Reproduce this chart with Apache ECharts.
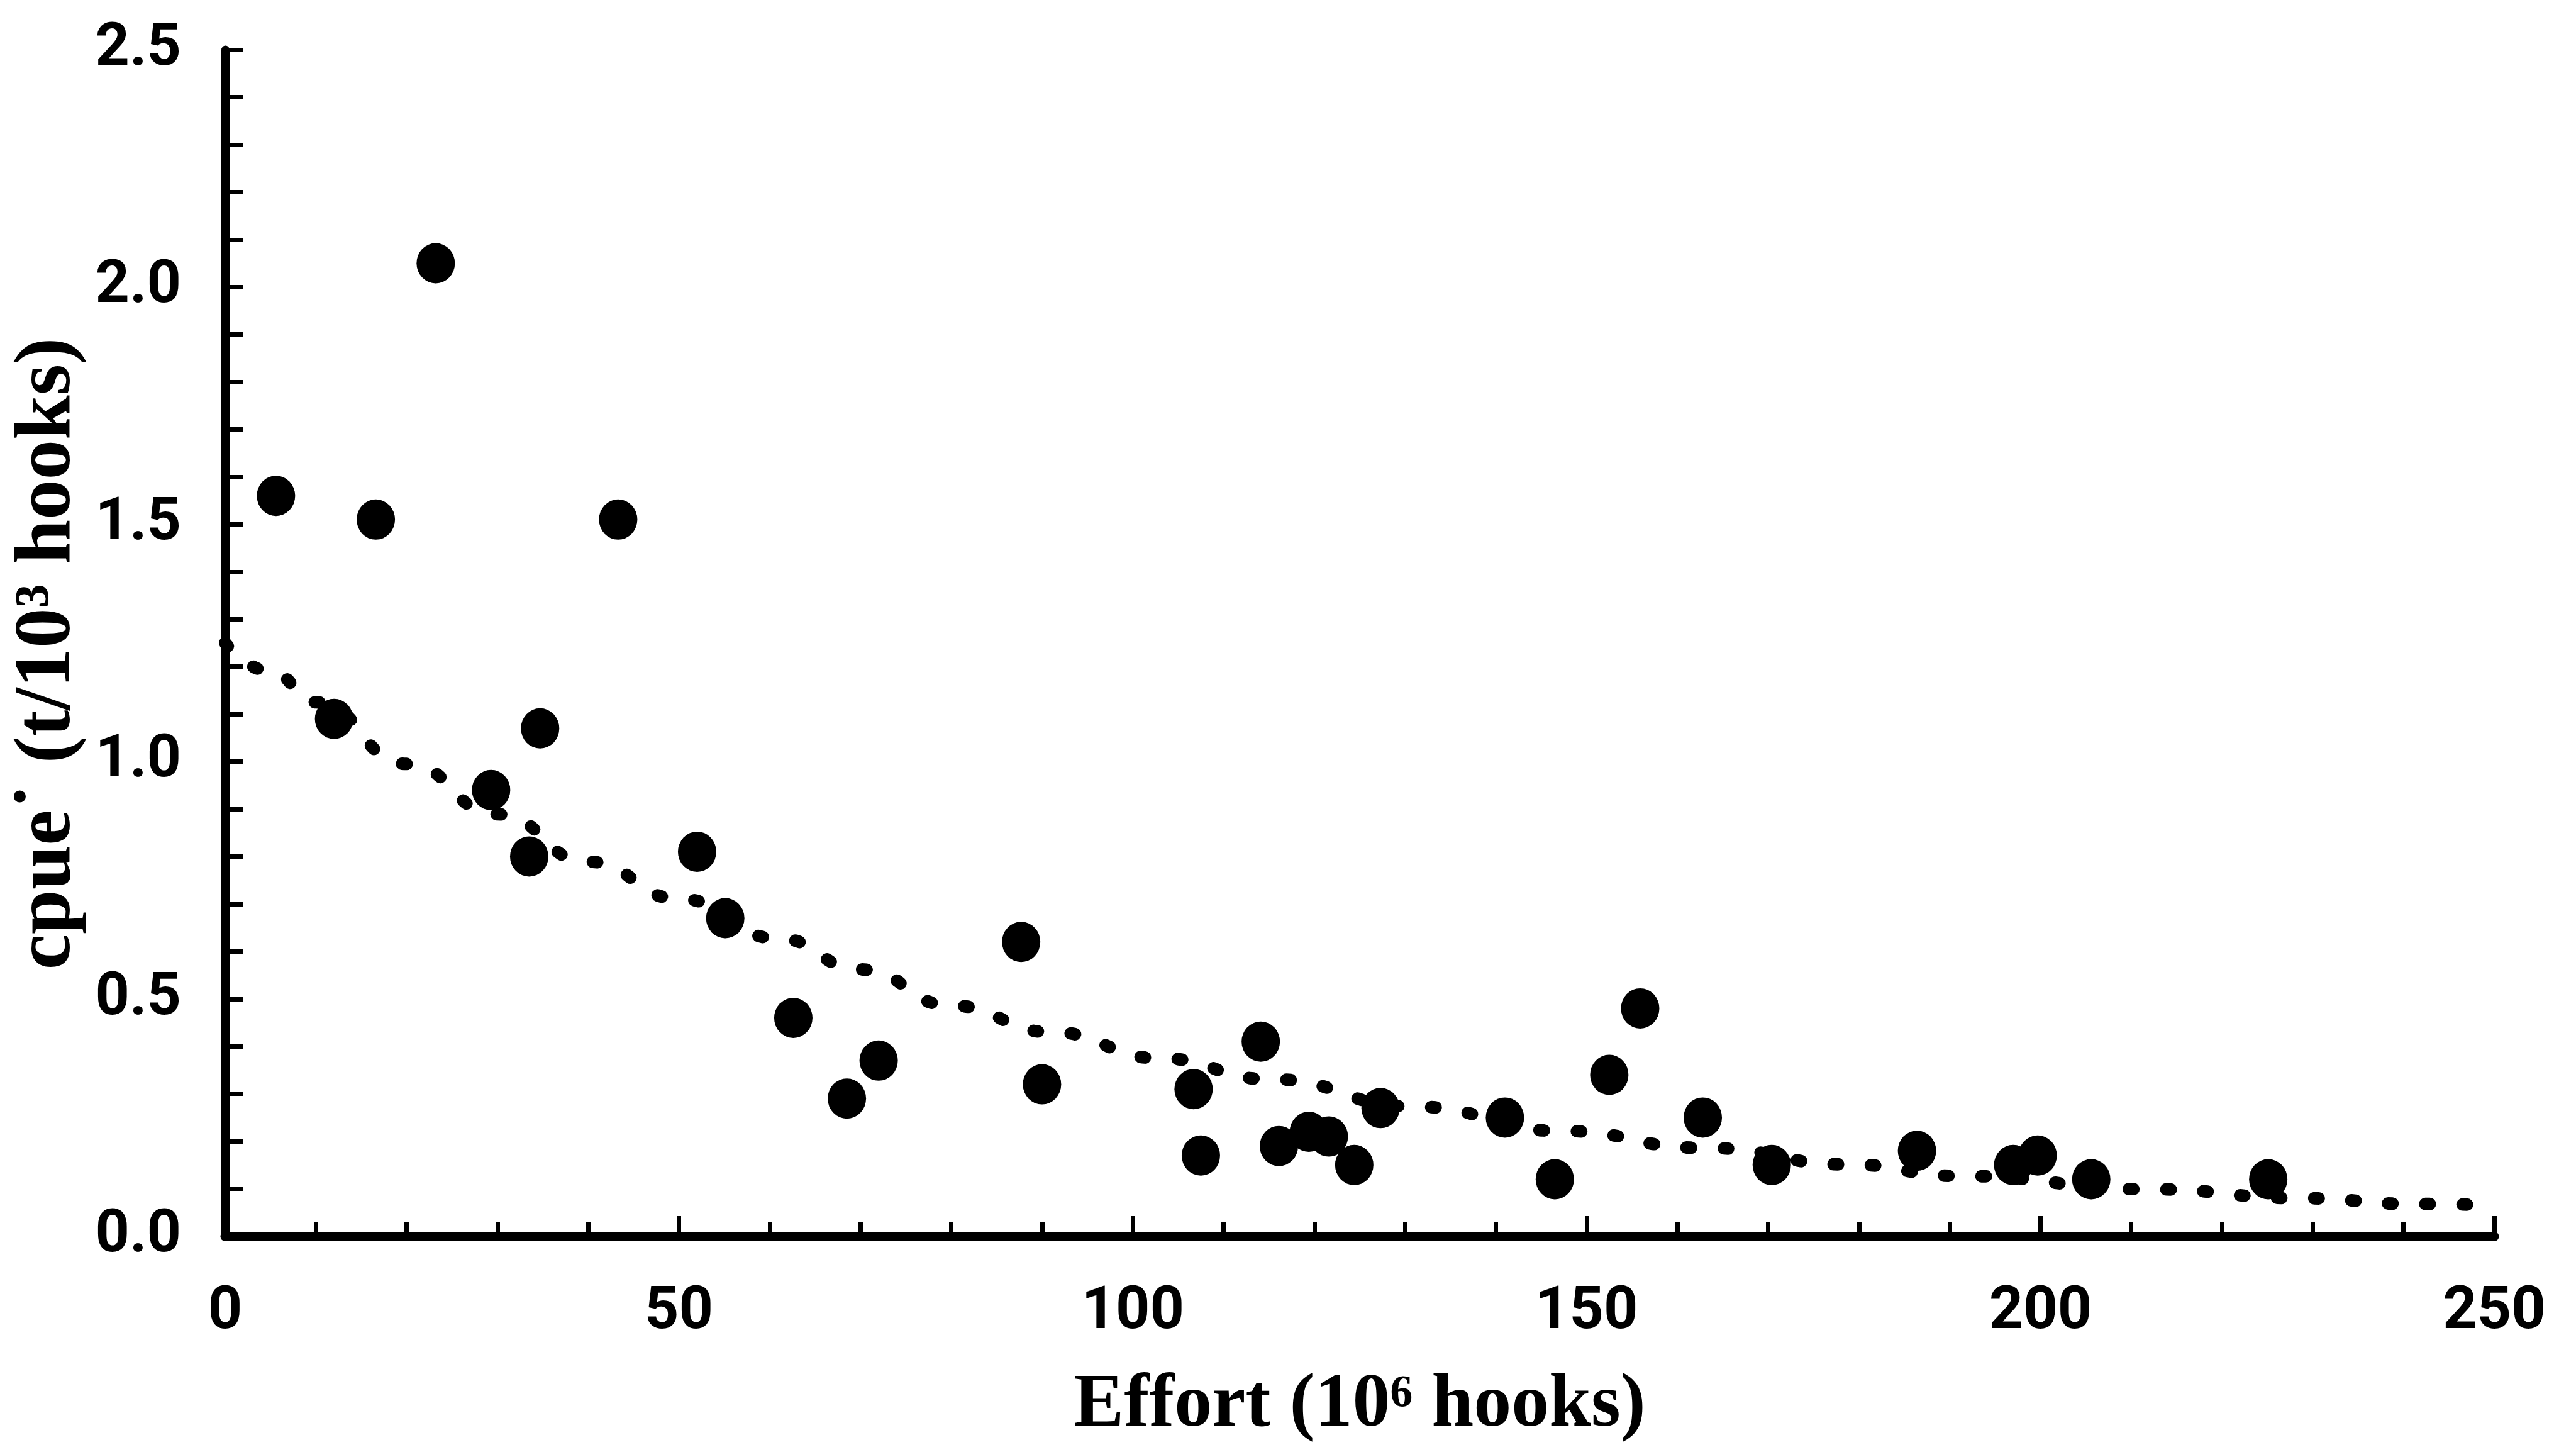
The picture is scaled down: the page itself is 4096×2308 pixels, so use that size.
<!DOCTYPE html>
<html>
<head>
<meta charset="utf-8">
<script src="https://cdn.jsdelivr.net/npm/echarts/dist/echarts.min.js"></script>
<style>
  html, body { margin: 0; padding: 0; background: #fff; }
  #chart { width: 4096px; height: 2308px; }
</style>
</head>
<body>
<div id="chart"></div>
<script>
// observed points: fishing effort (10^6 hooks) and standardised cpue
const effort = [5.6, 12.0, 16.6, 23.2, 29.3, 33.5, 34.7, 43.3, 52.0, 55.1, 62.6, 68.5, 72.0, 87.7,
    90.0, 106.7, 107.5, 114.1, 116.1, 119.4, 121.6, 124.4, 127.3, 141.0, 146.5, 152.5, 155.9,
    162.8, 170.4, 186.4, 197.0, 199.7, 205.6, 225.1];
const cpue = [1.56, 1.09, 1.51, 2.05, 0.94, 0.80, 1.07, 1.51, 0.81, 0.67, 0.46, 0.29, 0.37, 0.62,
    0.32, 0.31, 0.17, 0.41, 0.19, 0.22, 0.21, 0.15, 0.27, 0.25, 0.12, 0.34, 0.48,
    0.25, 0.15, 0.18, 0.15, 0.17, 0.12, 0.12];

// fitted curve
const fitEffort = [0, 5, 10, 20, 30, 40, 50, 61, 70, 80, 91, 103, 115, 131, 147, 163, 179, 191, 212, 229, 241, 250];
const fitCpue = [1.25, 1.19, 1.125, 0.995, 0.889, 0.789, 0.711, 0.627, 0.562, 0.486, 0.43, 0.375, 0.331, 0.273,
    0.222, 0.186, 0.151, 0.127, 0.099, 0.080, 0.068, 0.065];

const xLabels = [0, 50, 100, 150, 200, 250];
const yLabels = ['0.0', '0.5', '1.0', '1.5', '2.0', '2.5'];

const tickFont = "'Liberation Sans Narrow', Roboto, sans-serif";
const titleFont = "'Liberation Serif', 'DejaVu Serif', serif";

const chart = echarts.init(document.getElementById('chart'));

const option = {
    backgroundColor: '#fff',
    animation: false,
    grid: {left: 358, right: 130, top: 79, bottom: 343},
    xAxis: {
        type: 'value',
        min: xLabels[0],
        max: xLabels[xLabels.length - 1],
        interval: 50,
        name: 'Effort (10⁶ hooks)',
        nameLocation: 'middle',
        nameGap: 210,
        nameTextStyle: {fontFamily: titleFont, fontWeight: 'bold', fontSize: 120, color: '#000'},
        axisLine: {lineStyle: {color: '#000', width: 15}},
        axisTick: {inside: true, length: 32, lineStyle: {color: '#000', width: 7}},
        minorTick: {show: true, splitNumber: 5, length: 23, lineStyle: {color: '#000', width: 7}},
        splitLine: {show: false},
        axisLabel: {
            margin: 75, fontFamily: tickFont, fontWeight: 'bold', fontSize: 95, color: '#000',
            formatter: v => String(v)
        }
    },
    yAxis: {
        type: 'value',
        min: 0,
        max: 2.5,
        interval: 0.5,
        name: 'cpue˙ (t/10³ hooks)',
        nameLocation: 'middle',
        nameGap: 200,
        nameTextStyle: {
            fontFamily: titleFont, fontWeight: 'bold', fontSize: 127, color: '#000',
            padding: [0, 34, 0, 0]
        },
        axisLine: {show: true, lineStyle: {color: '#000', width: 13}},
        axisTick: {show: true, inside: true, length: 28, lineStyle: {color: '#000', width: 7}},
        minorTick: {show: true, splitNumber: 5, length: 28, lineStyle: {color: '#000', width: 7}},
        splitLine: {show: false},
        axisLabel: {
            margin: 70, fontFamily: tickFont, fontWeight: 'bold', fontSize: 95, color: '#000',
            formatter: v => yLabels[Math.round(v * 2)]
        }
    },
    series: [
        {
            type: 'line',
            data: fitEffort.map((x, i) => [x, fitCpue[i]]),
            smooth: true,
            smoothMonotone: 'x',
            showSymbol: false,
            lineStyle: {color: '#000', width: 20, type: [7, 52], cap: 'round'},
            z: 2
        },
        {
            type: 'scatter',
            data: effort.map((x, i) => [x, cpue[i]]),
            symbol: 'circle',
            symbolSize: [61, 64],
            itemStyle: {color: '#000', opacity: 1},
            z: 3
        }
    ]
};

chart.setOption(option);
</script>
</body>
</html>
